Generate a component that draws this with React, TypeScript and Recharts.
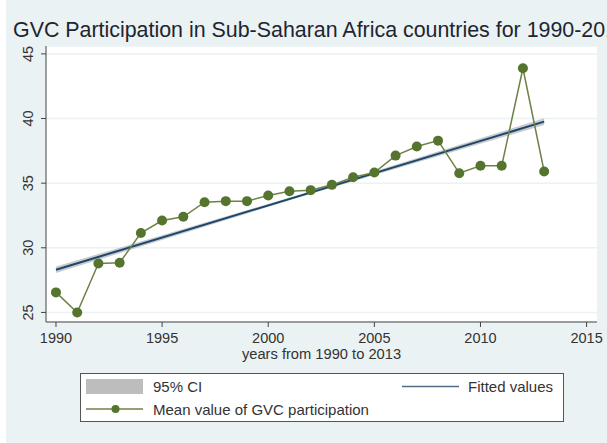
import { ComposedChart, Line, Area, XAxis, YAxis, CartesianGrid } from 'recharts';

const YEARS = [
  1990, 1991, 1992, 1993, 1994, 1995, 1996, 1997, 1998, 1999, 2000, 2001,
  2002, 2003, 2004, 2005, 2006, 2007, 2008, 2009, 2010, 2011, 2012, 2013,
];
const GVC_MEAN = [
  26.55, 25.0, 28.79, 28.84, 31.14, 32.11, 32.4, 33.53, 33.61, 33.61, 34.04, 34.38,
  34.46, 34.87, 35.46, 35.82, 37.13, 37.83, 38.29, 35.77, 36.34, 36.34, 43.89, 35.9,
];

// fitted line endpoints and CI band
const FIT_YEARS = [1990, 2013];
const FIT_VALUES = [28.3, 39.76];
const CI_YEARS = [1990, 2001.5, 2013];
const CI_LOW = [28.05, 33.93, 39.5];
const CI_HIGH = [28.55, 34.13, 40.02];

const X_TICKS = [1990, 1995, 2000, 2005, 2010, 2015];
const Y_TICKS = [25, 30, 35, 40, 45];

const FONT = '"Liberation Sans", Arial, sans-serif';
const BG = '#EAF2F3';
const NAVY = '#1A476F';
const GREEN = '#55752F';
const GREEN_LINE = '#6E8247';
const TEXT = '#333333';

const meanData = YEARS.map((year, i) => ({ year, mean: GVC_MEAN[i] }));
const fitData = FIT_YEARS.map((year, i) => ({ year, fit: FIT_VALUES[i] }));
const ciData = CI_YEARS.map((year, i) => ({ year, ci: [CI_LOW[i], CI_HIGH[i]] }));

const YTick = ({ x, y, payload }: any) => (
  <text
    x={x - 6}
    y={y}
    transform={`rotate(-90, ${x - 6}, ${y})`}
    textAnchor="middle"
    fontSize={14.5}
    fill={TEXT}
    fontFamily={FONT}
  >
    {payload.value}
  </text>
);

const XTick = ({ x, y, payload }: any) => (
  <text x={x} y={y + 14} textAnchor="middle" fontSize={14.5} fill={TEXT} fontFamily={FONT}>
    {payload.value}
  </text>
);

const LegendBox = () => (
  <svg
    width={484}
    height={49}
    style={{ position: 'absolute', left: 80, top: 373, display: 'block', fontFamily: FONT }}
  >
    <rect x={0.5} y={0.5} width={483} height={48} fill="#fff" stroke="#555" />
    <rect x={6} y={6} width={57} height={15} fill="#BDBDBD" />
    <text x={73} y={19} fontSize={15} fill={TEXT}>95% CI</text>
    <line x1={322} x2={379} y1={13.5} y2={13.5} stroke="#4F6D88" strokeWidth={1.5} />
    <text x={388} y={19} fontSize={15} fill={TEXT}>Fitted values</text>
    <line x1={6} x2={63} y1={36} y2={36} stroke={GREEN_LINE} strokeWidth={1.5} />
    <circle cx={35.5} cy={36} r={4} fill={GREEN} />
    <text x={73} y={41.5} fontSize={15} fill={TEXT}>Mean value of GVC participation</text>
  </svg>
);

export default function App() {
  return (
    <div
      style={{
        position: 'absolute',
        left: 0,
        top: 0,
        width: 607,
        height: 443,
        overflow: 'hidden',
        background: `linear-gradient(to right, #fff 6px, ${BG} 6px)`,
        fontFamily: FONT,
      }}
    >
      <div
        style={{
          position: 'absolute',
          left: 13,
          top: 18,
          fontSize: 21.4,
          color: '#1E2530',
          whiteSpace: 'nowrap',
        }}
      >
        GVC Participation in Sub-Saharan Africa countries for 1990-2013
      </div>
      <ComposedChart
        width={607}
        height={443}
        margin={{ top: 46, right: 10, left: 0, bottom: 0 }}
        style={{ position: 'absolute', left: 0, top: 0 }}
      >
        <CartesianGrid vertical={false} fill="#fff" stroke={BG} strokeWidth={1.5} />
        <XAxis
          dataKey="year"
          type="number"
          domain={[1989.53, 2015.49]}
          ticks={X_TICKS}
          allowDataOverflow
          height={121}
          tick={<XTick />}
          tickSize={5}
          stroke="#444"
          label={{
            value: 'years from 1990 to 2013',
            position: 'insideTop',
            offset: 27,
            fontSize: 14.7,
            fill: TEXT,
            fontFamily: FONT,
          }}
        />
        <YAxis
          type="number"
          domain={[24.26, 45.61]}
          ticks={Y_TICKS}
          allowDataOverflow
          width={46}
          tick={<YTick />}
          tickSize={5}
          stroke="#444"
        />
        <Area
          data={ciData}
          dataKey="ci"
          type="linear"
          fill="#BDBDBD"
          fillOpacity={0.8}
          stroke="none"
          isAnimationActive={false}
          legendType="none"
        />
        <Line
          data={fitData}
          dataKey="fit"
          type="linear"
          stroke={NAVY}
          strokeWidth={2}
          dot={false}
          activeDot={false}
          isAnimationActive={false}
          legendType="none"
        />
        <Line
          data={meanData}
          dataKey="mean"
          type="linear"
          stroke={GREEN_LINE}
          strokeWidth={1.5}
          dot={{ r: 5, fill: GREEN, stroke: GREEN, strokeWidth: 0 }}
          activeDot={false}
          isAnimationActive={false}
          legendType="none"
        />
      </ComposedChart>
      <LegendBox />
    </div>
  );
}
